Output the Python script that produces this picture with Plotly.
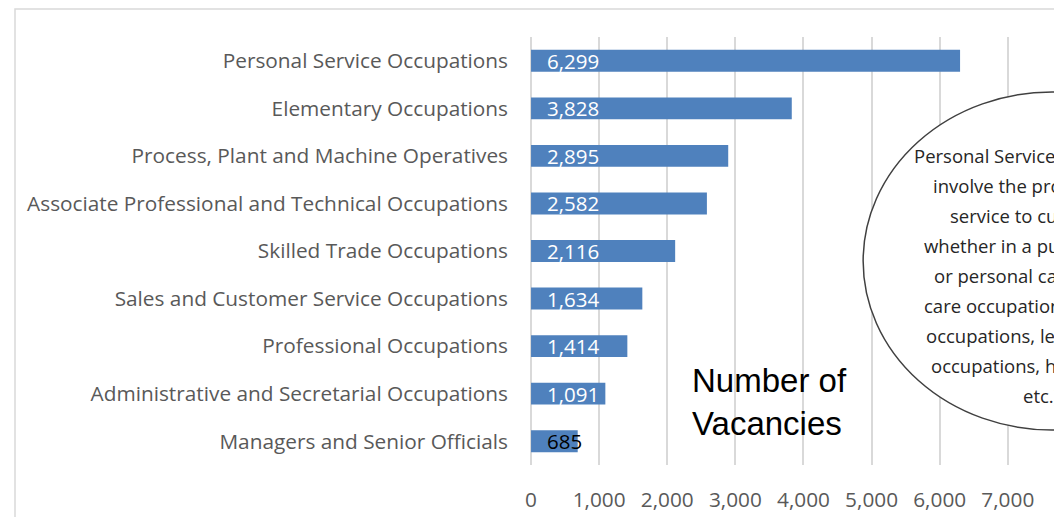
import plotly.graph_objects as go

categories = [
    "Personal Service Occupations",
    "Elementary Occupations",
    "Process, Plant and Machine Operatives",
    "Associate Professional and Technical Occupations",
    "Skilled Trade Occupations",
    "Sales and Customer Service Occupations",
    "Professional Occupations",
    "Administrative and Secretarial Occupations",
    "Managers and Senior Officials",
]
vacancies = [6299, 3828, 2895, 2582, 2116, 1634, 1414, 1091, 685]
label_colors = ["white"] * 8 + ["black"]

tick_vals = [0, 1000, 2000, 3000, 4000, 5000, 6000, 7000]
tick_text = ["0", "1,000", "2,000", "3,000", "4,000", "5,000", "6,000", "7,000"]

axis_title_text = "Number of<br>Vacancies"
note_lines = [
    "Personal Service Occupations",
    "involve the provision of a",
    "service to customers,",
    "whether in a public, private",
    "or personal capacity (e.g.",
    "care occupations, childcare",
    "occupations, leisure, travel",
    "occupations, hairdressing",
    "etc.)",
]

# page offset (body margin) and figure size
OX, OY = 8, 8
W, H = 1054, 509
FONT = "Open Sans"


def px(xs):
    return (xs - OX) / W


def py(ys):
    return 1 - (ys - OY) / H


X0 = 528          # screen x of value 0
PX_PER_1000 = 68.5

fig = go.Figure()
fig.add_trace(go.Bar(
    y=categories, x=vacancies, orientation="h",
    marker=dict(color="#4F81BD", line=dict(width=0)),
    width=0.46, hoverinfo="x+y",
))

# data labels
for c, v, col in zip(categories, vacancies, label_colors):
    fig.add_annotation(x=0, y=c, xref="x", yref="y", text=f"{v:,}",
                       xanchor="left", yanchor="middle", xshift=14, showarrow=False,
                       font=dict(family=FONT, size=20.5, color=col))

# outer border
fig.add_shape(type="rect", xref="paper", yref="paper",
              x0=px(9), x1=1.05, y0=-0.05, y1=py(9),
              line=dict(color="#d9d9d9", width=1.5), layer="below")

# text box in circle
cx, cy, rx, ry = 1052, 261, 190, 169
fig.add_shape(type="circle", xref="paper", yref="paper",
              x0=px(cx - rx), x1=px(cx + rx),
              y0=py(cy + ry), y1=py(cy - ry),
              line=dict(color="#404040", width=1.5), fillcolor="white")
for i, line in enumerate(note_lines):
    fig.add_annotation(x=px(1041), y=py(155 + i * 30.1), xref="paper", yref="paper",
                       text=line, showarrow=False, xanchor="center", yanchor="middle",
                       font=dict(family=FONT, size=18.5, color="#262626"))

fig.add_annotation(x=px(688), y=py(402), xref="paper", yref="paper",
                   text=axis_title_text, showarrow=False, xanchor="left", yanchor="middle",
                   align="left", font=dict(family="Liberation Sans", size=33, color="black"))

fig.update_layout(
    width=W, height=H,
    margin=dict(l=0, r=0, t=0, b=0),
    paper_bgcolor="white", plot_bgcolor="white",
    showlegend=False,
    xaxis=dict(domain=[px(X0), 1], range=[0, (W + OX - X0) / PX_PER_1000 * 1000],
               tickvals=tick_vals, ticktext=tick_text,
               showgrid=True, gridcolor="#d9d9d9", gridwidth=1.5,
               zeroline=True, zerolinecolor="#d9d9d9", zerolinewidth=1.5,
               showline=False, ticks="", ticklabelstandoff=20,
               tickfont=dict(family=FONT, size=20.8, color="#595959")),
    yaxis=dict(domain=[py(465), py(37)], autorange="reversed",
               showgrid=False, showline=False, ticks="", ticklabelstandoff=22,
               tickfont=dict(family=FONT, size=20.8, color="#595959")),
)

fig.write_html("out.html")
